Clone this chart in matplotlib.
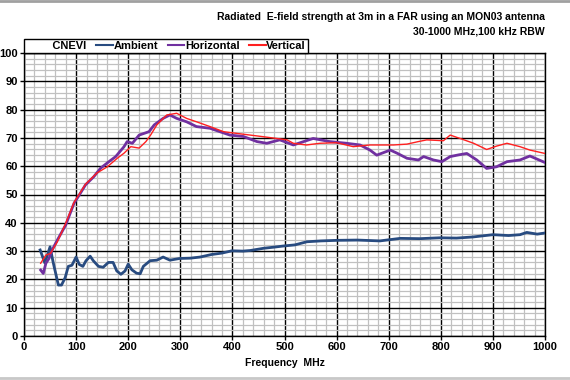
import matplotlib
matplotlib.use("Agg")
import matplotlib.pyplot as plt
from matplotlib.lines import Line2D
from matplotlib.ticker import MultipleLocator

plt.rcParams['font.family'] = ['Liberation Sans', 'DejaVu Sans']
plt.rcParams['font.weight'] = 'bold'

# ==================================================
# DATA
# ==================================================
amb_f = [31, 40, 50, 56, 66, 72, 79, 85, 92, 100, 106, 113, 119, 127, 133, 143,
         152, 162, 171, 178, 186, 194, 200, 207, 216, 223, 229, 242, 255, 267,
         280, 299, 319, 338, 360, 380, 399, 420, 434, 460, 480, 498, 520, 543,
         570, 600, 640, 683, 722, 760, 798, 830, 862, 900, 930, 952, 965, 985, 1000]
amb_v = [30.4, 25.8, 31.5, 26.0, 18.0, 18.0, 20.6, 24.6, 25.0, 27.9, 25.3, 24.6,
         26.6, 28.2, 26.6, 24.6, 24.3, 26.0, 26.0, 23.0, 21.8, 23.0, 25.4, 23.4,
         22.2, 22.0, 24.6, 26.6, 26.8, 27.9, 26.8, 27.4, 27.5, 27.9, 28.8, 29.3,
         30.1, 30.0, 30.2, 31.0, 31.4, 31.8, 32.2, 33.3, 33.6, 33.8, 33.9, 33.6,
         34.5, 34.4, 34.7, 34.6, 35.0, 35.8, 35.5, 35.8, 36.6, 36.0, 36.4]

hor_f = [32, 37, 42, 48, 54, 64, 80, 96, 106, 118, 134, 147, 163, 176, 192, 198,
         208, 221, 240, 250, 267, 280, 293, 312, 331, 357, 376, 395, 421, 447,
         466, 491, 517, 555, 587, 619, 645, 664, 677, 703, 716, 735, 757, 767,
         786, 802, 818, 834, 850, 869, 888, 907, 927, 952, 971, 1000]
hor_v = [23.3, 22.1, 25.7, 27.4, 30.4, 33.9, 39.2, 46.9, 49.8, 53.4, 56.3, 59.3,
         61.6, 63.4, 66.9, 68.7, 68.1, 71.0, 72.2, 74.6, 76.9, 78.1, 76.9, 75.7,
         74.0, 73.4, 72.2, 71.0, 70.5, 68.7, 68.1, 69.3, 67.5, 69.8, 68.7, 68.1,
         67.5, 65.7, 63.9, 65.7, 64.6, 62.8, 62.2, 63.4, 62.2, 61.6, 63.4, 64.0,
         64.5, 62.2, 59.2, 59.8, 61.6, 62.2, 63.6, 61.3]

ver_f = [32, 42, 51, 64, 80, 96, 118, 140, 160, 179, 192, 205, 221, 234, 243,
         255, 274, 293, 312, 331, 357, 383, 408, 434, 460, 485, 505, 517, 542,
         568, 600, 632, 664, 690, 709, 735, 757, 773, 805, 818, 837, 863, 888,
         907, 927, 952, 971, 1000]
ver_v = [25.7, 28.6, 29.2, 33.3, 39.8, 47.2, 53.6, 57.6, 59.8, 62.8, 64.6, 66.9,
         66.4, 68.7, 71.0, 74.6, 78.1, 78.7, 76.9, 75.7, 74.0, 72.2, 71.6, 71.0,
         70.4, 69.8, 69.3, 68.1, 67.5, 68.1, 68.3, 66.9, 67.5, 67.5, 67.5, 67.8,
         68.7, 69.3, 69.0, 71.0, 69.8, 68.1, 65.9, 67.1, 68.1, 66.9, 65.7, 64.5]

# ==================================================
# FIGURE
# ==================================================
fig = plt.figure(figsize=(5.7, 3.8), dpi=100)
ax = fig.add_axes([24 / 570, 1 - 336 / 380, (545 - 24) / 570, (336 - 53) / 380])

ax.plot(amb_f, amb_v, color="#284b80", lw=2.0, label="Ambient", zorder=3)
ax.plot(hor_f, hor_v, color="#7030a0", lw=2.0, label="Horizontal", zorder=4)
ax.plot(ver_f, ver_v, color="#ff2020", lw=1.0, label="Vertical", zorder=5)

ax.set_xlim(0, 1000)
ax.set_ylim(0, 100)
ax.xaxis.set_major_locator(MultipleLocator(100))
ax.xaxis.set_minor_locator(MultipleLocator(20))
ax.yaxis.set_major_locator(MultipleLocator(10))
ax.yaxis.set_minor_locator(MultipleLocator(2))
ax.grid(which="minor", color="#c0c0c0", lw=0.9, zorder=0)
ax.grid(which="major", color="black", lw=1.0, zorder=1)
ax.set_axisbelow(True)
ax.tick_params(which="minor", length=0)
ax.tick_params(which="major", length=3, width=1, labelsize=8, pad=1.5)
for lab in ax.get_xticklabels() + ax.get_yticklabels():
    lab.set_fontweight("bold")
for s in ax.spines.values():
    s.set_color("black")
    s.set_linewidth(1)

ax.set_xlabel("Frequency  MHz", fontsize=7.5, fontweight="bold", labelpad=4)

fig.text(545 / 570, 1 - 17 / 380,
         "Radiated  E-field strength at 3m in a FAR using an MON03 antenna",
         ha="right", va="center", fontsize=7.5, fontweight="bold")
fig.text(545 / 570, 1 - 32 / 380, "30-1000 MHz,100 kHz RBW",
         ha="right", va="center", fontsize=7.5, fontweight="bold")

# legend box above the plot
blank = Line2D([], [], color="none")
handles = [blank] + ax.get_lines()
labels = ["   CNEVI", "Ambient", "Horizontal", "Vertical"]
leg = ax.legend(handles, labels, ncol=4, loc="lower left",
                bbox_to_anchor=(0, 1.0, 284 / 521, 0.055), mode="expand",
                fancybox=False, edgecolor="black", framealpha=1,
                prop={"size": 8, "weight": "bold"}, handlelength=1.5,
                handletextpad=0.05, columnspacing=0.6, borderpad=0.2,
                borderaxespad=0)
leg.get_frame().set_linewidth(1)
for l in leg.get_lines():
    l.set_linewidth(1.5)

fig.add_artist(Line2D([0, 1], [0.997, 0.997], color="#a0a0a0", lw=2))
fig.add_artist(Line2D([0, 1], [0.005, 0.005], color="#c8c8c8", lw=2))

fig.savefig("out.png", dpi=100)
